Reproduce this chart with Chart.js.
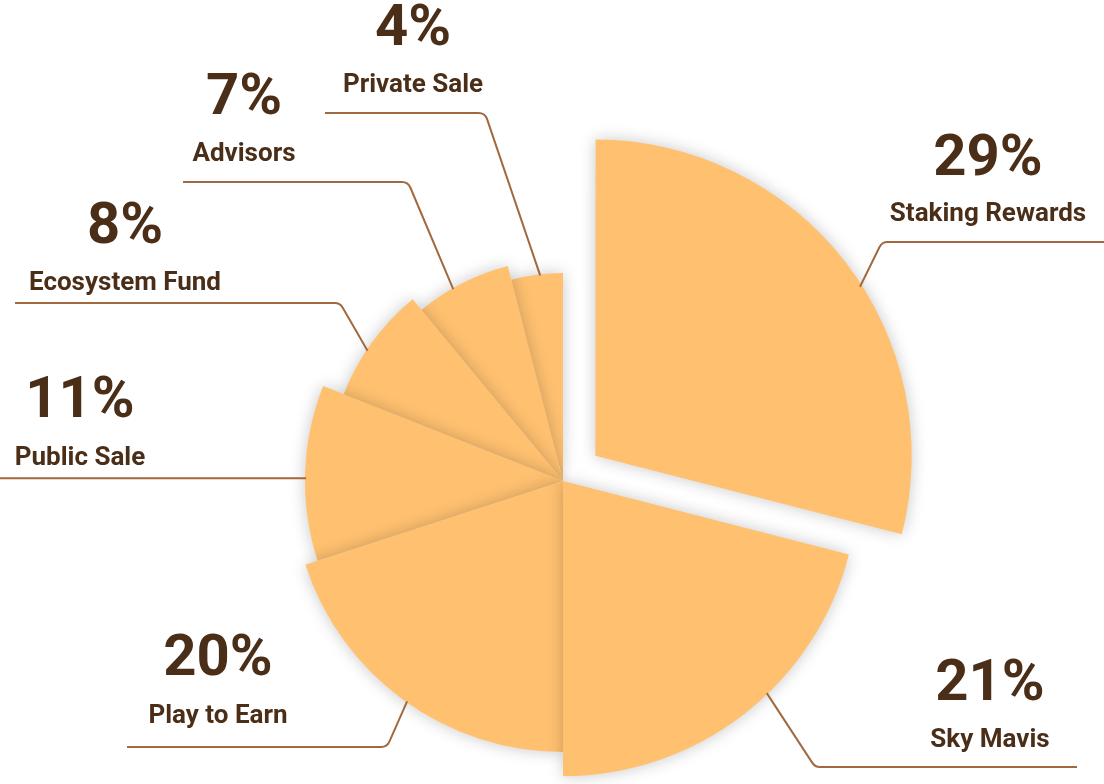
<!DOCTYPE html>
<html>
<head>
<meta charset="utf-8">
<title>Token Allocation</title>
<script src="https://cdn.jsdelivr.net/npm/chart.js@4.4.1/dist/chart.umd.min.js"></script>
<style>
    html, body { margin: 0; padding: 0; background: #ffffff; }
    #wrap { width: 1104px; height: 784px; position: relative; }
</style>
</head>
<body>
<div id="wrap"><canvas id="allocationChart"></canvas></div>
<script>
// Chart data
const labels = ['Staking Rewards', 'Sky Mavis', 'Play to Earn', 'Public Sale', 'Ecosystem Fund', 'Advisors', 'Private Sale'];
const shares = [29, 21, 20, 11, 8, 7, 4];

// Look of the slices (not data): relative depth of each slice and the exploded one
const sliceDepth = [1, 0.937, 0.860, 0.819, 0.749, 0.705, 0.660];
const sliceOffset = [164, 0, 0, 0, 0, 0, 0];

const FILL = '#FFC170';
const TEXT = '#4B2E18';
const LINE = '#A2693F';

// Where each callout sits: text centre, baselines, leader line (at = where on the slice arc)
const callouts = [
    { tx: 988, pctY: 175, nameY: 221, lineY: 242, cornerX: 882, endX: 1104, at: 0.55 },
    { tx: 990, pctY: 700, nameY: 747, lineY: 767, cornerX: 815, endX: 1077, at: 0.42 },
    { tx: 218, pctY: 675, nameY: 723, lineY: 747, cornerX: 387, endX: 127, at: 0.49 },
    { tx: 80,  pctY: 417, nameY: 465, lineY: 478, cornerX: null, endX: 0, at: 0.47 },
    { tx: 125, pctY: 243, nameY: 290, lineY: 303, cornerX: 340, endX: 15, at: 0.42 },
    { tx: 244, pctY: 114, nameY: 161, lineY: 182, cornerX: 408, endX: 183, at: 0.39 },
    { tx: 413, pctY: 45,  nameY: 92,  lineY: 113, cornerX: 485, endX: 325, at: 0.56 }
];

document.addEventListener('DOMContentLoaded', function() {
    drawAllocation();
});

/**
 * Gives each slice its own depth after the library has laid it out
 */
const depthPlugin = {
    id: 'sliceDepth',
    afterDatasetsUpdate(chart) {
        const meta = chart.getDatasetMeta(0);
        meta.data.forEach((el, i) => {
            el.outerRadius = el.outerRadius * sliceDepth[i];
        });
    }
};

/**
 * Draws slices back to front with a soft shadow
 */
const shadowPlugin = {
    id: 'sliceShadow',
    beforeDatasetDraw(chart, args) {
        const ctx = chart.ctx;
        const els = args.meta.data;
        for (let i = els.length - 1; i >= 0; i--) {
            ctx.save();
            ctx.shadowColor = 'rgba(0, 0, 0, 0.22)';
            ctx.shadowBlur = 16;
            ctx.shadowOffsetX = 0;
            ctx.shadowOffsetY = 0;
            els[i].draw(ctx);
            ctx.restore();
        }
        return false;
    }
};

/**
 * Percent + name above a leader line that runs to the slice edge
 */
const calloutPlugin = {
    id: 'callouts',
    afterDraw(chart) {
        const ctx = chart.ctx;
        const meta = chart.getDatasetMeta(0);
        meta.data.forEach((el, i) => {
            const c = callouts[i];
            const mid = (el.startAngle + el.endAngle) / 2;
            const ang = el.startAngle + (el.endAngle - el.startAngle) * c.at;
            const shift = (sliceOffset[i] || 0) / 4;
            const r = el.outerRadius - 1;
            const ax = el.x + Math.cos(mid) * shift + Math.cos(ang) * r;
            const ay = el.y + Math.sin(mid) * shift + Math.sin(ang) * r;

            ctx.save();
            ctx.strokeStyle = LINE;
            ctx.lineWidth = 2;
            ctx.lineJoin = 'round';
            ctx.beginPath();
            ctx.moveTo(ax, ay);
            if (c.cornerX === null) {
                ctx.lineTo(c.endX, ay);
            } else {
                ctx.arcTo(c.cornerX, c.lineY, c.endX, c.lineY, 9);
                ctx.lineTo(c.endX, c.lineY);
            }
            ctx.stroke();

            ctx.fillStyle = TEXT;
            ctx.textAlign = 'center';
            ctx.textBaseline = 'alphabetic';
            ctx.font = 'bold 58px Roboto';
            ctx.fillText(shares[i] + '%', c.tx, c.pctY);
            ctx.font = 'bold 26px Roboto';
            ctx.fillText(labels[i], c.tx, c.nameY);
            ctx.restore();
        });
    }
};

function drawAllocation() {
    const ctx = document.getElementById('allocationChart');
    if (!ctx) return;

    new Chart(ctx, {
        type: 'pie',
        data: {
            labels: labels,
            datasets: [{
                data: shares,
                backgroundColor: FILL,
                borderWidth: 0,
                offset: sliceOffset,
                radius: 315,
                clip: false
            }]
        },
        options: {
            responsive: true,
            maintainAspectRatio: false,
            animation: false,
            events: [],
            layout: {
                padding: { left: 22, right: 0, top: 178, bottom: 0 }
            },
            plugins: {
                legend: { display: false },
                tooltip: { enabled: false }
            }
        },
        plugins: [depthPlugin, shadowPlugin, calloutPlugin]
    });
}
</script>
</body>
</html>
